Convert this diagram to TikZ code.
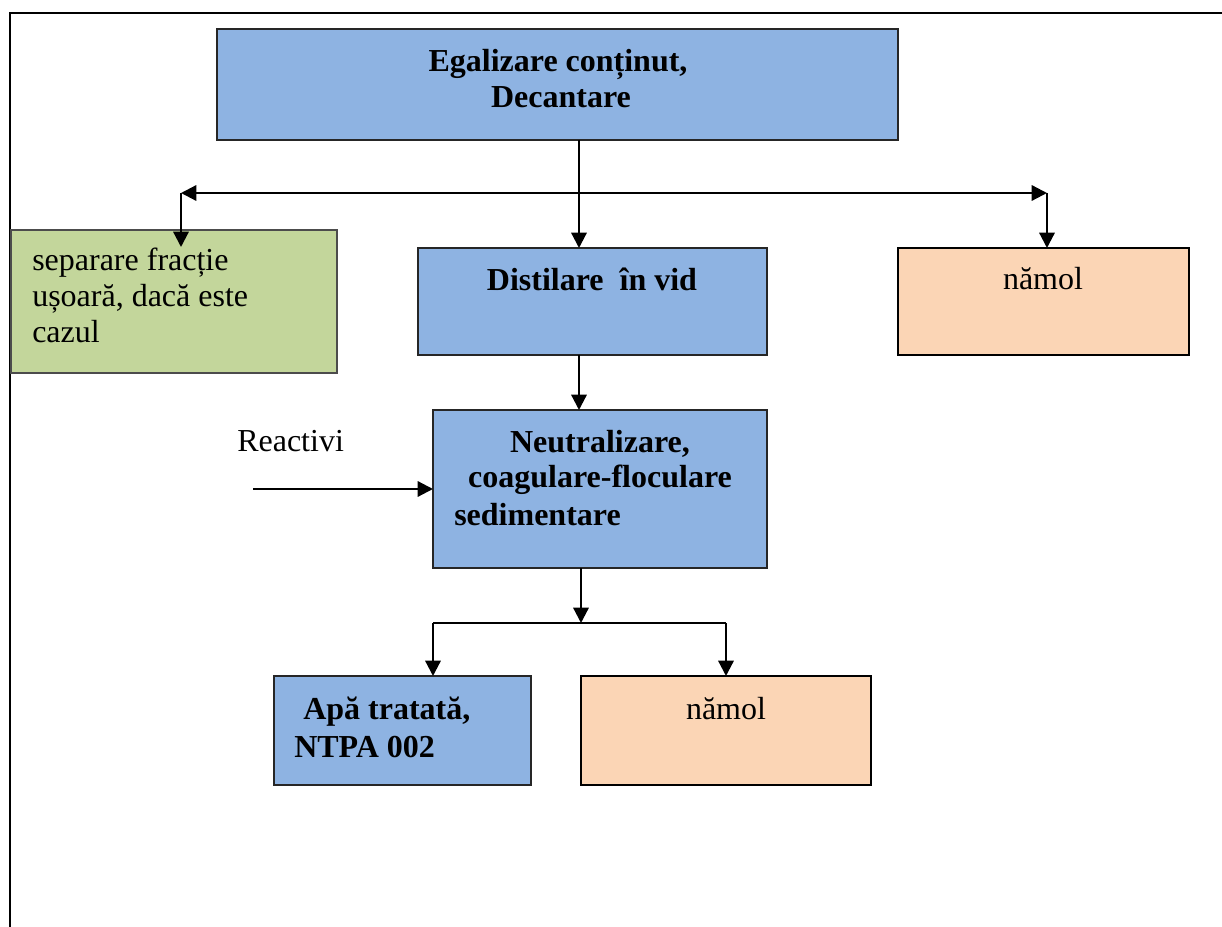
\documentclass[tikz,border=0pt]{standalone}
\usepackage{fontspec}
\setmainfont{Liberation Serif}
\usetikzlibrary{arrows.meta}
\definecolor{boxblue}{HTML}{8EB3E2}
\definecolor{boxgreen}{HTML}{C3D69B}
\definecolor{boxpeach}{HTML}{FBD5B5}
\tikzset{
  box/.style={draw=black!85, line width=1.3pt, inner sep=0pt, outer sep=0pt},
  bluebox/.style={box, fill=boxblue},
  greenbox/.style={box, fill=boxgreen, draw=black!70},
  peachbox/.style={box, fill=boxpeach, draw=black, line width=1.5pt},
  lbl/.style={inner sep=0pt, font=\fontsize{24pt}{27pt}\selectfont},
  blbl/.style={lbl, font=\fontsize{24pt}{27pt}\selectfont\bfseries},
  conn/.style={line width=1.7pt, draw=black},
  arr/.style={conn, -{Triangle[length=11.5pt,width=11.5pt]}},
}
\begin{document}
\begin{tikzpicture}[x=0.75pt,y=-0.75pt]
\useasboundingbox (0,0) rectangle (1222,927);
% frame
\draw[line width=1.7pt] (10,927) -- (10,13) -- (1222,13);

% boxes
\node[bluebox, minimum width=510.75pt, minimum height=83.25pt] (top) at (557.5,84.5) {};
\node[greenbox, minimum width=244.5pt, minimum height=107.25pt] (green) at (174,301.5) {};
\node[bluebox, minimum width=261.75pt, minimum height=80.25pt] (dist) at (592.5,301.5) {};
\node[peachbox, minimum width=218.25pt, minimum height=80.25pt] (namA) at (1043.5,301.5) {};
\node[bluebox, minimum width=250.5pt, minimum height=118.5pt] (neut) at (600,489) {};
\node[bluebox, minimum width=192.75pt, minimum height=81.75pt] (apa) at (402.5,730.5) {};
\node[peachbox, minimum width=217.5pt, minimum height=81.75pt] (namB) at (726,730.5) {};

% texts
\node[blbl, anchor=base] (t1a) at (558,72) {Egalizare conținut,};
\node[blbl, anchor=base] (t1b) at (561,108) {Decantare};
\node[lbl, anchor=base west] (g1) at (32,271) {separare fracție};
\node[lbl, anchor=base west] (g2) at (32,307) {ușoară, dacă este};
\node[lbl, anchor=base west] (g3) at (32,343) {cazul};
\node[blbl, anchor=base] (d1) at (592,291) {Distilare\ \ în vid};
\node[lbl, anchor=base] (n1) at (1043,290) {nămol};
\node[lbl, anchor=base west] (reac) at (237,451) {Reactivi};
\node[blbl, anchor=base] (ne1) at (600,452) {Neutralizare,};
\node[blbl, anchor=base] (ne2) at (600,488) {coagulare-floculare};
\node[blbl, anchor=base west] (ne3) at (454,525) {sedimentare};
\node[blbl, anchor=base west] (a1) at (303,719) {Apă tratată,};
\node[blbl, anchor=base west] (a2) at (294,757) {NTPA 002};
\node[lbl, anchor=base] (n2) at (726,719) {nămol};

% junction coordinates
\coordinate (jT) at (579,193);
\coordinate (jL) at (181,193);
\coordinate (jR) at (1047,193);
\coordinate (rin) at (253,489);
\coordinate (jB) at (581,623);
\coordinate (jBL) at (433,623);
\coordinate (jBR) at (726,623);

% connectors
\draw[arr] (top.south -| jT) -- (jT |- dist.north);
\draw[arr] (jT) -- (jL);
\draw[arr] (jT) -- (jR);
\draw[arr] (jL) -- ([yshift=-12.75pt]jL |- green.north);
\draw[arr] (jR) -- (jR |- namA.north);
\draw[arr] (dist.south -| jT) -- (jT |- neut.north);
\draw[arr] (rin) -- (rin -| neut.west);
\draw[arr] (neut.south -| jB) -- (jB);
\draw[conn] (jBL) -- (jBR);
\draw[arr] (jBL) -- (jBL |- apa.north);
\draw[arr] (jBR) -- (jBR |- namB.north);
\end{tikzpicture}
\end{document}
